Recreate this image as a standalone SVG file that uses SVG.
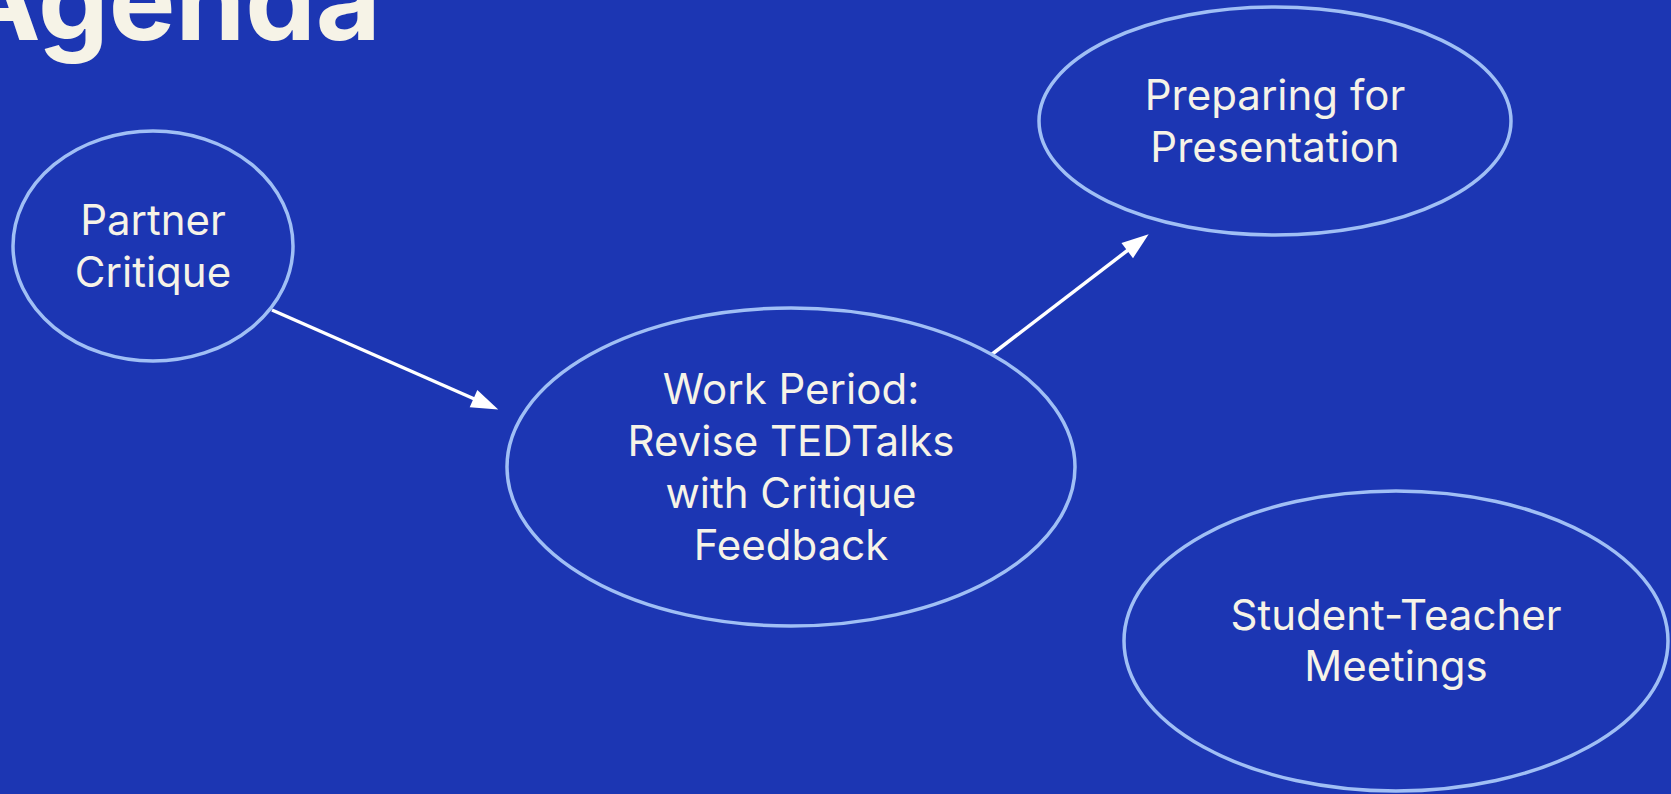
<svg xmlns="http://www.w3.org/2000/svg" width="1671" height="794" viewBox="0 0 1671 794">
<defs>
<style>
.node ellipse{fill:none;stroke:#A0BFF5;stroke-width:3.5}
.node text{font-family:Inter,"Noto Sans","Liberation Sans",sans-serif;font-size:42px;fill:#F6F3E7;text-anchor:middle}
.title{font-family:Inter,"Liberation Sans",sans-serif;font-weight:700;font-size:112px;fill:#F6F3E7}
.edge{stroke:#FFFFFF;stroke-width:3.5;fill:none}
</style>
<marker id="arrow" markerUnits="userSpaceOnUse" markerWidth="28" markerHeight="20" refX="6" refY="9.5" orient="auto" overflow="visible">
<path d="M0,0 L27,9.5 L0,19 z" fill="#FFFFFF"/>
</marker>
</defs>
<rect x="0" y="0" width="1671" height="794" fill="#1C36B3"/>
<text class="title" x="-43" y="40">Agenda</text>
<g id="edges">
<line class="edge" x1="272" y1="310" x2="479" y2="401" marker-end="url(#arrow)"/>
<line class="edge" x1="991" y1="355" x2="1132" y2="247" marker-end="url(#arrow)"/>
</g>
<g id="partner" class="node">
<ellipse cx="153" cy="246" rx="140" ry="115"/>
<text x="153" y="235">Partner</text>
<text x="153" y="287">Critique</text>
</g>
<g id="work" class="node">
<ellipse cx="791" cy="467" rx="284" ry="159"/>
<text x="791" y="404">Work Period:</text>
<text x="791" y="456">Revise TEDTalks</text>
<text x="791" y="508">with Critique</text>
<text x="791" y="560">Feedback</text>
</g>
<g id="preparing" class="node">
<ellipse cx="1275" cy="121" rx="236" ry="114"/>
<text x="1275" y="110">Preparing for</text>
<text x="1275" y="162">Presentation</text>
</g>
<g id="meetings" class="node">
<ellipse cx="1396" cy="641" rx="272" ry="150"/>
<text x="1396" y="630">Student-Teacher</text>
<text x="1396" y="681">Meetings</text>
</g>
</svg>
